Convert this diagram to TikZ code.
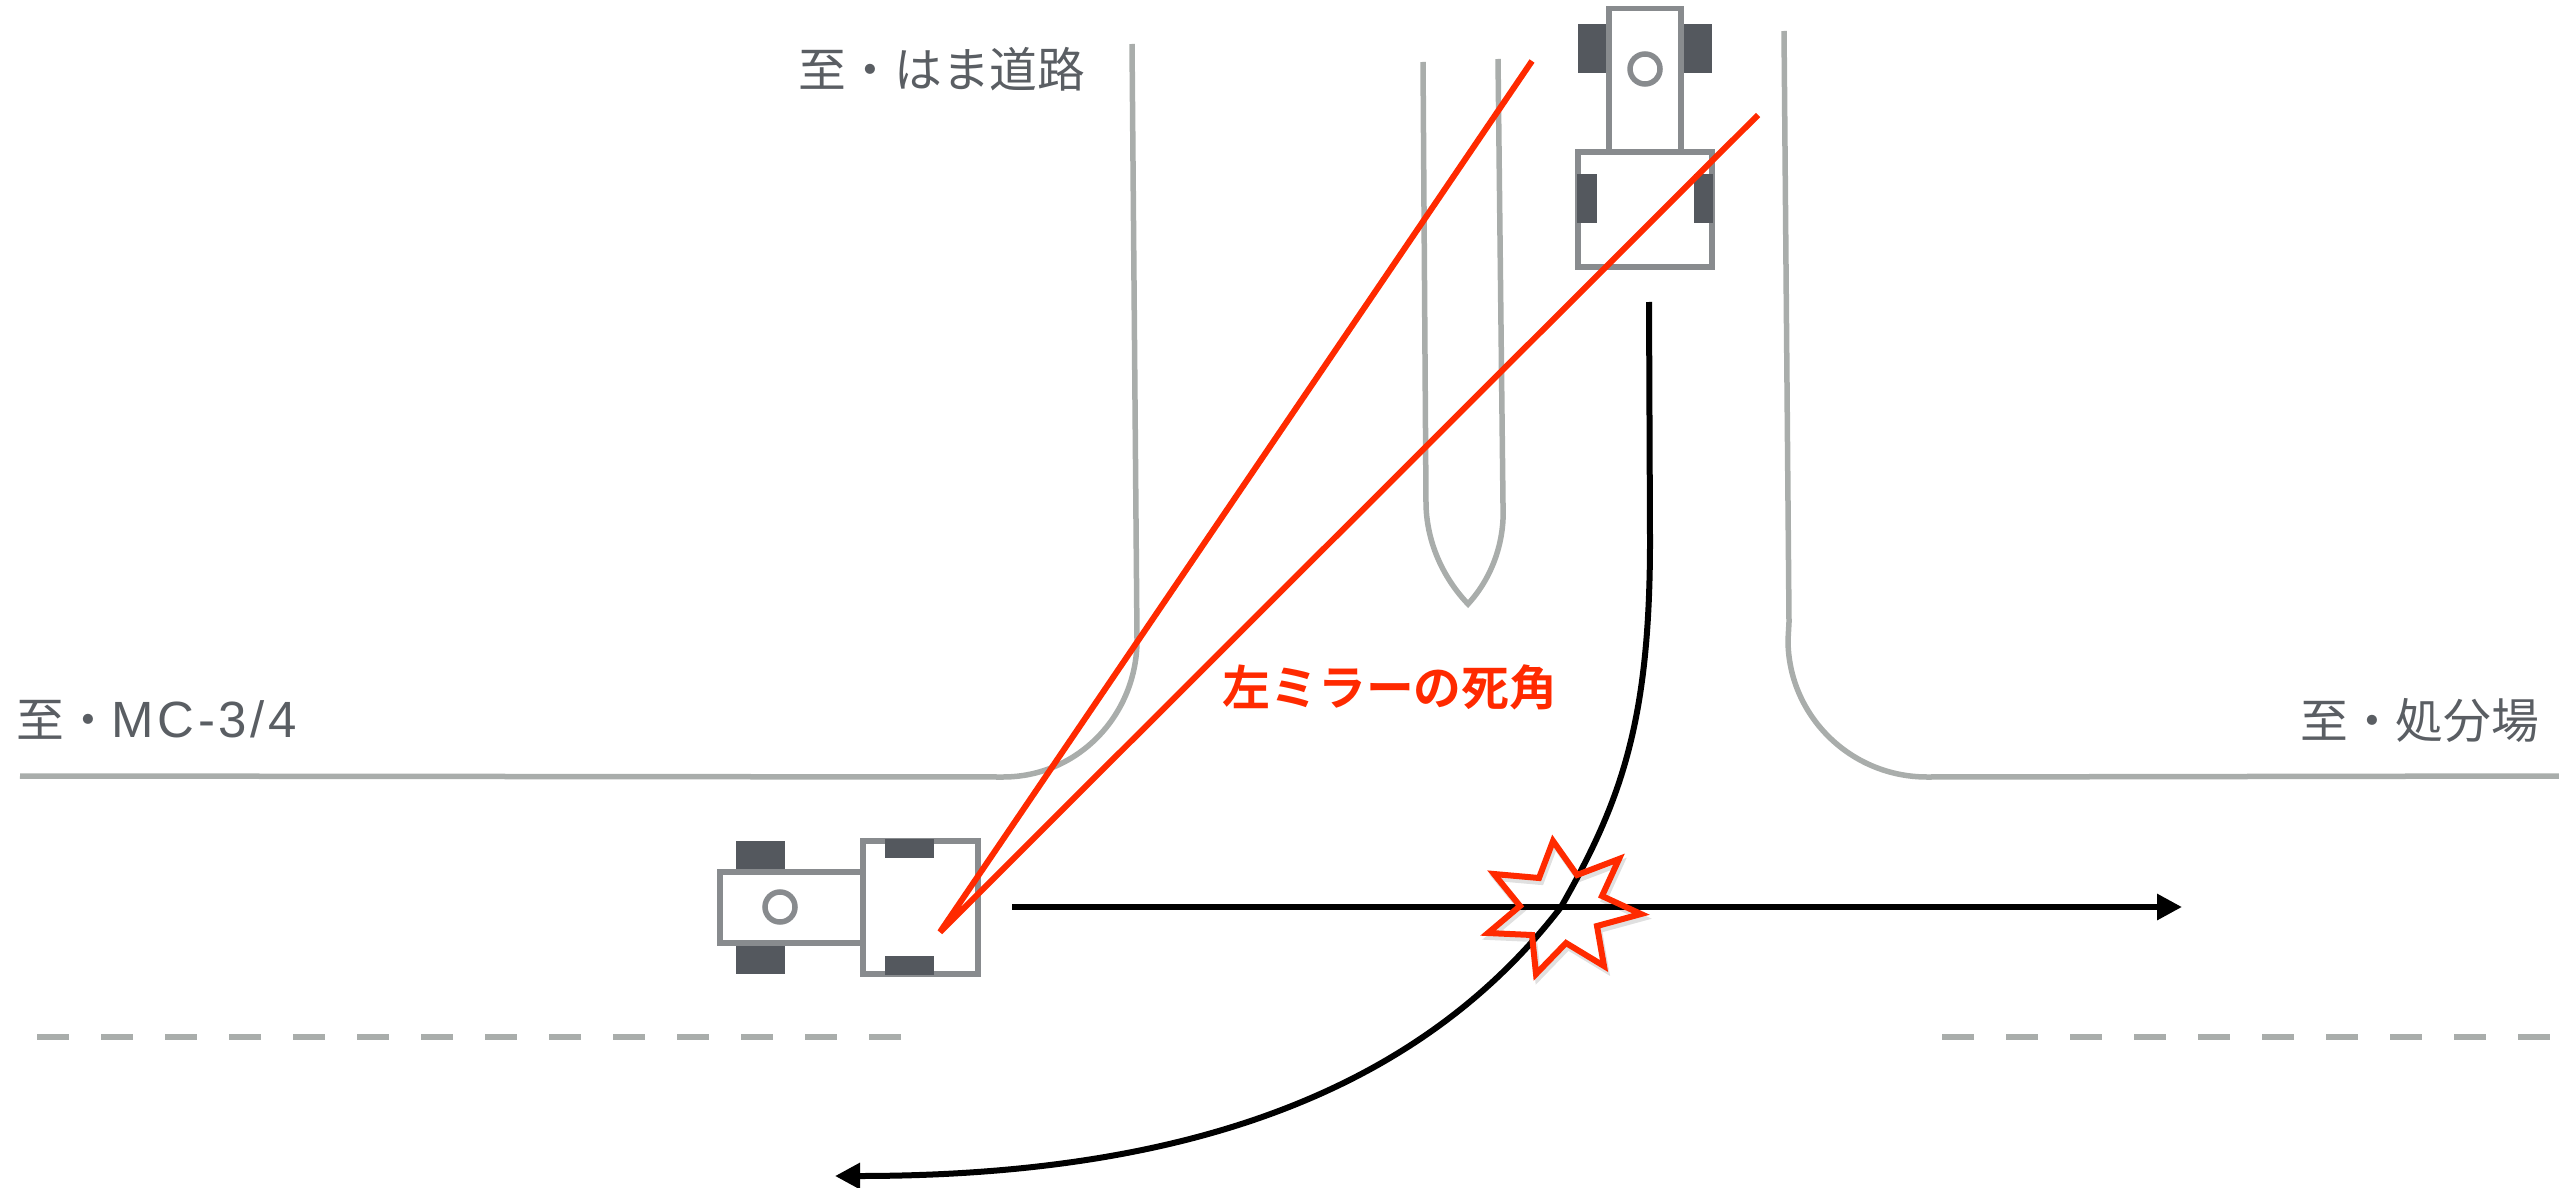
\documentclass[tikz,border=0pt]{standalone}
\usepackage{fontspec}
\usetikzlibrary{arrows.meta}
\newfontfamily\jpfont{Noto Sans CJK JP}
\newfontfamily\jpbold{Noto Sans CJK JP}[BoldFont={Noto Sans CJK JP Bold}]
\newfontfamily\latinf{Liberation Sans}[LetterSpace=7]
\definecolor{roadc}{HTML}{A9ADAB}
\definecolor{truckc}{HTML}{888B8E}
\definecolor{wheelc}{HTML}{54585E}
\definecolor{redc}{HTML}{FF2A00}
\definecolor{textc}{HTML}{5A5E63}
\tikzset{
  road/.style={draw=roadc,line width=5.5*0.8536pt,line join=miter},
  body/.style={draw=truckc,line width=5.5*0.8536pt,fill=white},
  wheel/.style={fill=wheelc,draw=none},
  sight/.style={draw=redc,line width=6*0.8536pt},
  route/.style={draw=black,line width=6*0.8536pt,-{Triangle[length=25*0.8536pt,width=25*0.8536pt]}},
  lbl/.style={text=textc,font=\jpfont\fontsize{40.8pt}{46pt}\selectfont,inner sep=0pt},
  dashline/.style={draw=roadc,line width=5.5*0.8536pt,dash pattern=on 32*0.8536pt off 32*0.8536pt}
}
\begin{document}
\begin{tikzpicture}[x=0.03cm,y=-0.03cm]
\useasboundingbox (0,0) rectangle (2559,1188);
% roads
\draw[road] (1132,44) -- (1137,640) .. controls (1137,715) and (1078,777) .. (1003,777) -- (20,776);
\draw[road] (1784,31) -- (1789,622) -- (1788,640) .. controls (1788,715) and (1850,777) .. (1927,777) -- (2559,776);
\draw[road] (1423,62) -- (1426,505) .. controls (1427,545) and (1445,580) .. (1468,604) .. controls (1490,580) and (1505,545) .. (1503,505) -- (1498,59);
\draw[dashline] (37,1037) -- (902,1037);
\draw[dashline] (1942,1037) -- (2551,1037);
% top truck
\fill[wheel] (1578,24) rectangle (1607,73);
\fill[wheel] (1683,24) rectangle (1712,73);
\draw[body] (1609,8.5) rectangle (1681,152);
\draw[body] (1578,152) rectangle (1712,267);
\fill[wheel] (1577,174) rectangle (1597,223);
\fill[wheel] (1694,174) rectangle (1713,223);
\draw[body] (1645,69) circle (15);
% left truck
\fill[wheel] (736,841) rectangle (785,869);
\fill[wheel] (736,946) rectangle (785,974);
\draw[body] (720,872) rectangle (863,943);
\draw[body] (863,841) rectangle (978,974);
\fill[wheel] (885,839) rectangle (934,858);
\fill[wheel] (885,956) rectangle (934,975);
\draw[body] (780,907) circle (15);
% routes
\coordinate (hs) at (1012,907);
\coordinate (he) at (2182,907);
\draw[route] (hs) -- (he);
\coordinate (cs) at (1649,302);
\coordinate (ce) at (835,1176);
\draw[route] (cs) -- (1650,540) .. controls (1650,720) and (1622,800) .. (1561,907) .. controls (1414,1098) and (1174,1176) .. (ce);
% sight lines
\coordinate (apex) at (940,932);
\coordinate (s1) at (1532,61);
\coordinate (s2) at (1758,115);
\draw[sight] (s1) -- (apex) -- (s2);
% crash
\draw[draw=black,opacity=0.12,line width=6*0.8536pt,line join=miter,shift={(2,4)}]
 (1553,841)--(1577,875)--(1619,859)--(1602,896)--(1641,914)--(1597,926)--(1604,966)--(1566,943)--(1536,974)--(1532,935)--(1488,933)--(1520,906)--(1494,874)--(1539,878)--cycle;
\draw[sight,line join=miter]
 (1553,841)--(1577,875)--(1619,859)--(1602,896)--(1641,914)--(1597,926)--(1604,966)--(1566,943)--(1536,974)--(1532,935)--(1488,933)--(1520,906)--(1494,874)--(1539,878)--cycle;
% labels
\node[lbl,anchor=center] (t1) at (942,69) {至・はま道路};
\node[lbl,anchor=west] (t2) at (16,720) {至・{\latinf\fontsize{43.5pt}{46pt}\selectfont MC-3/4}};
\node[lbl,anchor=west] (t3) at (2300,720) {至・処分場};
\node[lbl,text=redc,font=\jpbold\bfseries\fontsize{40.8pt}{46pt}\selectfont,anchor=center] (t4) at (1390,687) {左ミラーの死角};
\end{tikzpicture}
\end{document}
